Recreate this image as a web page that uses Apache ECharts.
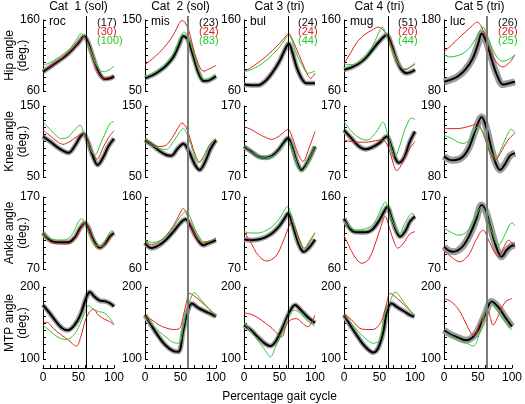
<!DOCTYPE html>
<html><head><meta charset="utf-8">
<script src="https://cdn.jsdelivr.net/npm/echarts@6/dist/echarts.min.js"></script>
<style>html,body{margin:0;padding:0;background:#fff}#c{width:525px;height:404px}</style>
</head><body><div id="c"></div>
<script>
const titles = ['Cat  1 (sol)','Cat  2 (sol)','Cat 3 (tri)','Cat 4 (tri)','Cat 5 (tri)'];
const animals = ['roc','mis','bul','mug','luc'];
const rowNames = ['Hip angle','Knee angle','Ankle angle','MTP angle'];
const nBlack = ['(17)','(23)','(24)','(51)','(26)'];
const nRed = ['(30)','(24)','(24)','(20)','(26)'];
const nGreen = ['(100)','(83)','(44)','(44)','(25)'];
const xLabelValues = [0,50,100];
const stanceEnd = [60.5,60.5,63,62,60.6];
const hipRange = [[60,160],[50,150],[60,160],[60,160],[80,180]];
const kneeRange = [[50,150],[50,150],[70,170],[70,170],[80,190]];
const ankleRange = [[70,170],[60,160],[70,170],[60,160],[70,170]];
const mtpRange = [[100,200],[100,200],[100,200],[100,200],[100,200]];

const hipBlack = [
 [[0,87],[10,94],[20,101],[30,108],[40,117],[50,128],[58,137],[64,127],[71,106],[78,87],[87,77],[95,78],[100,81]],
 [[0,68],[10,72],[20,78],[30,86],[40,98],[48,115],[54,127],[60,123],[68,99],[76,74],[83,64],[90,65],[100,71]],
 [[0,69],[10,68],[20,68],[30,74],[40,86],[50,102],[58,119],[63,127],[68,115],[74,94],[81,78],[88,71],[100,71]],
 [[0,90],[10,93],[20,98],[30,106],[40,118],[50,130],[60,139],[67,125],[74,104],[81,90],[88,85],[95,87],[100,90]],
 [[0,93],[10,96],[20,101],[30,110],[40,125],[48,146],[53,161],[60,148],[67,125],[74,104],[83,89],[92,91],[100,93]]
];
const hipRed = [
 [[0,89],[10,95],[20,102],[30,109],[40,118],[50,129],[57,136],[64,126],[71,104],[78,85],[87,78],[100,82]],
 [[0,87],[10,95],[20,104],[30,115],[40,129],[47,143],[52,149],[56,147],[62,134],[70,103],[78,82],[83,78],[90,81],[100,86]],
 [[0,87],[10,93],[20,100],[30,108],[40,117],[50,127],[58,136],[63,141],[68,133],[74,119],[82,100],[90,82],[94,78],[100,85]],
 [[0,98],[10,115],[20,131],[30,140],[40,146],[48,150],[55,146],[62,136],[70,115],[78,97],[86,90],[93,93],[100,98]],
 [[0,135],[10,144],[20,154],[30,163],[40,172],[46,177],[52,172],[60,152],[68,131],[76,118],[83,114],[92,120],[100,131]]
];
const hipGreen = [
 [[0,96],[10,100],[20,106],[30,113],[40,122],[48,134],[54,141],[60,132],[66,120],[73,101],[80,90],[86,87],[100,95]],
 [[0,70],[10,74],[20,80],[30,89],[40,102],[48,120],[55,133],[60,129],[68,104],[76,78],[83,66],[90,67],[100,73]],
 [[0,87],[10,90],[20,95],[30,102],[40,111],[50,122],[58,133],[63,139],[68,130],[74,112],[82,96],[90,85],[100,88]],
 [[0,98],[10,97],[20,100],[30,108],[40,123],[48,140],[54,150],[60,137],[68,117],[76,99],[84,91],[92,93],[100,100]],
 [[0,131],[8,128],[20,130],[30,135],[37,142],[46,156],[55,170],[61,158],[68,140],[76,126],[83,122],[92,125],[100,131]]
];
const kneeBlack = [
 [[0,107],[10,100],[20,92],[30,86],[36,84],[45,94],[52,106],[57,111],[63,100],[70,80],[77,67],[85,78],[92,93],[100,104]],
 [[0,102],[10,95],[20,87],[30,81],[37,80],[46,90],[54,97],[62,86],[70,68],[77,60],[85,72],[92,89],[100,102]],
 [[0,113],[10,106],[20,99],[30,97],[40,100],[50,110],[57,120],[62,125],[68,112],[75,90],[81,80],[90,92],[100,113]],
 [[0,136],[10,125],[20,114],[30,109],[40,112],[50,118],[60,127],[67,112],[72,97],[77,90],[85,98],[92,118],[100,134]],
 [[0,112],[7,107],[13,106],[25,110],[35,125],[45,155],[53,173],[60,155],[67,123],[73,101],[79,91],[86,100],[93,113],[100,117]]
];
const kneeRed = [
 [[0,116],[10,108],[20,100],[28,96],[38,100],[48,107],[57,111],[63,101],[70,84],[76,75],[84,90],[92,105],[100,115]],
 [[0,104],[10,97],[20,93],[30,95],[40,108],[47,120],[52,126],[58,120],[66,96],[72,78],[77,71],[85,84],[92,97],[100,104]],
 [[0,141],[10,137],[20,131],[30,126],[39,123],[50,128],[57,134],[62,137],[68,126],[76,103],[83,92],[92,112],[100,134]],
 [[0,122],[10,120],[20,119],[30,119],[40,120],[50,122],[58,120],[65,104],[70,87],[74,79],[82,89],[90,106],[100,120]],
 [[0,155],[10,155],[20,155],[30,157],[40,160],[46,163],[52,155],[60,132],[66,115],[72,106],[80,118],[90,137],[100,148]]
];
const kneeGreen = [
 [[0,128],[10,117],[20,107],[26,104],[35,106],[45,117],[52,123],[58,110],[65,93],[73,81],[82,99],[90,117],[95,126],[100,128]],
 [[0,103],[10,95],[20,90],[30,89],[40,100],[48,112],[54,118],[61,106],[68,85],[75,70],[83,80],[91,95],[100,103]],
 [[0,114],[10,106],[20,99],[30,97],[40,99],[50,108],[57,117],[62,122],[68,110],[75,88],[81,78],[90,91],[100,114]],
 [[0,148],[10,135],[20,126],[32,122],[45,133],[55,147],[61,131],[67,110],[72,99],[78,112],[85,135],[92,151],[95,153],[100,151]],
 [[0,145],[10,140],[20,134],[27,132],[36,138],[48,158],[55,150],[62,131],[67,118],[72,109],[80,122],[88,143],[95,154],[100,148]]
];
const ankleBlack = [
 [[0,120],[7,112],[14,108],[25,107],[35,107],[45,114],[52,126],[59,134],[64,127],[70,112],[76,102],[80,100],[88,106],[95,116],[100,120]],
 [[0,96],[9,89],[20,93],[30,101],[40,112],[50,124],[57,129],[64,120],[71,106],[77,97],[82,93],[90,96],[100,100]],
 [[0,111],[10,110],[20,111],[30,114],[40,120],[50,130],[57,140],[62,147],[68,133],[74,113],[79,100],[84,94],[92,100],[100,111]],
 [[0,130],[7,118],[13,112],[20,111],[30,111],[40,115],[50,128],[56,139],[61,146],[67,131],[73,114],[79,105],[86,112],[93,126],[100,133]],
 [[0,101],[6,96],[13,94],[25,100],[35,115],[45,138],[53,159],[59,150],[65,130],[72,105],[77,92],[81,87],[88,96],[95,102],[100,103]]
];
const ankleRed = [
 [[0,120],[7,111],[14,106],[25,105],[35,105],[45,112],[52,124],[59,135],[64,127],[70,110],[76,100],[80,98],[88,104],[95,114],[100,119]],
 [[0,100],[9,94],[20,98],[30,107],[40,120],[48,135],[54,144],[60,133],[67,115],[74,102],[82,96],[90,98],[100,103]],
 [[0,122],[10,106],[20,89],[32,81],[45,88],[55,108],[62,126],[67,136],[73,125],[79,109],[85,99],[93,110],[100,120]],
 [[0,107],[10,86],[18,73],[25,68],[35,74],[45,98],[52,119],[58,133],[64,117],[70,99],[76,89],[84,96],[92,108],[100,112]],
 [[0,96],[10,87],[22,80],[35,90],[45,110],[55,124],[62,112],[70,95],[77,87],[84,100],[91,110],[96,106],[100,101]]
];
const ankleGreen = [
 [[0,121],[7,114],[14,111],[25,110],[35,112],[43,121],[49,134],[54,140],[60,131],[66,116],[74,104],[82,101],[90,114],[97,123],[100,122]],
 [[0,100],[10,97],[20,99],[30,106],[40,118],[50,133],[58,140],[64,131],[71,114],[77,104],[83,98],[91,99],[100,103]],
 [[0,122],[10,120],[20,120],[30,123],[40,129],[50,140],[56,150],[61,157],[67,142],[73,122],[79,104],[85,96],[93,108],[100,121]],
 [[0,127],[7,119],[13,115],[20,114],[30,116],[40,121],[48,134],[54,147],[58,153],[64,138],[71,120],[78,109],[86,124],[96,137],[100,135]],
 [[0,127],[10,121],[20,117],[30,120],[40,133],[48,150],[53,157],[60,145],[68,120],[77,103],[85,116],[92,131],[96,134],[100,130]]
];
const mtpBlack = [
 [[0,175],[10,163],[20,150],[28,142],[35,140],[45,148],[53,162],[59,180],[63,190],[66,193],[72,187],[80,181],[88,180],[95,177],[100,173]],
 [[0,161],[10,145],[20,130],[30,118],[40,111],[47,110],[54,140],[60,166],[66,177],[75,171],[85,166],[92,163],[100,159]],
 [[0,147],[10,140],[20,130],[30,121],[37,118],[45,125],[55,145],[63,163],[72,175],[80,168],[90,158],[100,150]],
 [[0,161],[10,145],[20,130],[30,117],[41,109],[48,115],[55,136],[61,168],[67,177],[75,172],[85,166],[93,161],[99,159]],
 [[0,140],[10,134],[20,130],[32,126],[42,130],[50,140],[60,161],[70,180],[80,172],[90,158],[100,145]]
];
const mtpRed = [
 [[0,150],[5,151],[15,142],[25,134],[35,127],[47,118],[53,130],[60,155],[66,166],[71,169],[78,161],[87,155],[94,152],[100,147]],
 [[0,160],[10,154],[20,147],[30,143],[40,141],[48,142],[54,160],[58,177],[63,191],[75,183],[85,174],[100,161]],
 [[0,164],[10,162],[20,157],[30,150],[40,142],[47,135],[53,131],[60,148],[67,155],[74,156],[82,150],[90,145],[95,150],[100,161]],
 [[0,163],[10,155],[22,143],[32,141],[41,141],[50,148],[55,159],[60,177],[65,191],[75,184],[85,175],[99,161]],
 [[0,184],[10,180],[22,168],[32,150],[41,134],[45,133],[52,148],[60,163],[64,167],[68,158],[72,147],[80,160],[90,179],[100,184]]
];
const mtpGreen = [
 [[0,147],[10,139],[20,131],[33,127],[43,133],[52,148],[58,162],[64,174],[70,170],[78,166],[86,164],[94,157],[100,148]],
 [[0,159],[10,148],[20,138],[30,130],[40,123],[48,122],[54,145],[60,172],[66,188],[69,192],[80,181],[90,170],[100,159]],
 [[0,150],[10,138],[20,125],[30,112],[37,103],[45,118],[55,140],[63,160],[70,168],[80,163],[90,152],[100,146]],
 [[0,161],[10,150],[22,136],[32,127],[41,122],[50,126],[57,160],[65,180],[72,193],[85,178],[99,160]],
 [[0,138],[10,133],[20,128],[30,124],[43,118],[52,135],[60,163],[67,180],[75,172],[85,158],[100,140]]
];

// ---- layout / styles ----
const FONT = '"Liberation Sans", Arial, Helvetica, sans-serif';
const colX = [43,145,244,344,444], colW = 71;
const rowY = [20,106,197,287], rowH = [71,71,72,72];
const bandW = [5,5,5,5,7];
const vColor = ['#000','#7a7a7a','#000','#000','#7a7a7a'];
const vWidth = [1,2,1,1,2];
const RED = '#e02020', GREEN = '#2ec82e';
const rows = [
  {range: hipRange, k: hipBlack, r: hipRed, g: hipGreen},
  {range: kneeRange, k: kneeBlack, r: kneeRed, g: kneeGreen},
  {range: ankleRange, k: ankleBlack, r: ankleRed, g: ankleGreen},
  {range: mtpRange, k: mtpBlack, r: mtpRed, g: mtpGreen}
];

const grid = [], xAxis = [], yAxis = [], series = [], graphic = [];
rows.forEach((row, ri) => {
  for (let c = 0; c < 5; c++) {
    const gi = grid.length;
    grid.push({left: colX[c], top: rowY[ri], width: colW, height: rowH[ri]});
    const bottom = ri === 3;
    xAxis.push({
      type: 'value', gridIndex: gi, min: 0, max: 100, interval: 10,
      show: bottom, offset: 9,
      axisLine: {show: true, lineStyle: {color: '#000', width: 1}},
      axisTick: {show: true, inside: true, length: 3, lineStyle: {color: '#000'}},
      axisLabel: {show: true, color: '#000', fontSize: 12, fontFamily: FONT, margin: 4,
        formatter: v => xLabelValues.includes(v) ? String(v) : ''},
      splitLine: {show: false}
    });
    const [mn, mx] = row.range[c];
    yAxis.push({
      type: 'value', gridIndex: gi, min: mn, max: mx, interval: 10,
      axisLine: {show: true, lineStyle: {color: '#000', width: 1}},
      axisTick: {show: true, inside: true, length: 3, lineStyle: {color: '#000'}},
      axisLabel: {show: true, color: '#000', fontSize: 12, fontFamily: FONT, margin: 3,
        formatter: v => (v === mn || v === mx) ? String(v) : ''},
      splitLine: {show: false}
    });
    const base = {type: 'line', xAxisIndex: gi, yAxisIndex: gi, symbol: 'none', smooth: 0.35, silent: true, animation: false};
    series.push(Object.assign({}, base, {data: row.k[c], lineStyle: {color: '#9c9c9c', width: bandW[c]}, z: 1}));
    series.push(Object.assign({}, base, {data: row.k[c], lineStyle: {color: '#000', width: 2}, z: 2}));
    series.push(Object.assign({}, base, {data: row.r[c], lineStyle: {color: RED, width: 1}, z: 3}));
    series.push(Object.assign({}, base, {data: row.g[c], lineStyle: {color: GREEN, width: 1}, z: 3}));
  }
});
// full-height stance/swing transition lines
for (let c = 0; c < 5; c++) {
  const gi = grid.length;
  grid.push({left: colX[c], top: 16, width: colW, height: 368 - 16});
  xAxis.push({type: 'value', gridIndex: gi, min: 0, max: 100, show: false});
  yAxis.push({type: 'value', gridIndex: gi, min: 0, max: 1, show: false});
  series.push({type: 'line', xAxisIndex: gi, yAxisIndex: gi, data: [[0,0]], symbol: 'none', silent: true, animation: false,
    lineStyle: {opacity: 0}, z: 4,
    markLine: {silent: true, symbol: 'none', animation: false, label: {show: false},
      lineStyle: {color: vColor[c], width: vWidth[c], type: 'solid'},
      data: [{xAxis: stanceEnd[c]}]}});
}
// texts
const txt = (x, y, text, opts) => Object.assign({type: 'text', x: x, y: y, silent: true,
  style: Object.assign({text: text, fill: '#000', font: '11px ' + FONT, textAlign: 'left', textVerticalAlign: 'middle'}, opts || {})});
for (let c = 0; c < 5; c++) {
  graphic.push(txt(colX[c] + colW / 2, 7, titles[c], {textAlign: 'center', font: '12px ' + FONT}));
  graphic.push(txt(colX[c] + 6, 22, animals[c], {font: '12px ' + FONT}));
  graphic.push(txt(colX[c] + 54, 23, nBlack[c], {fill: '#111'}));
  graphic.push(txt(colX[c] + 54, 32, nRed[c], {fill: RED}));
  graphic.push(txt(colX[c] + 54, 41, nGreen[c], {fill: GREEN}));
}
rowNames.forEach((nm, ri) => {
  graphic.push(Object.assign(txt(16, rowY[ri] + rowH[ri] / 2, nm + '\n(deg.)',
    {textAlign: 'center', font: '12px ' + FONT, lineHeight: 13}), {rotation: Math.PI / 2}));
});
graphic.push(txt(colX[2] + colW / 2, 397, 'Percentage gait cycle', {textAlign: 'center', font: '12px ' + FONT}));

const chart = echarts.init(document.getElementById('c'), null, {renderer: 'canvas'});
chart.setOption({animation: false, backgroundColor: '#fff', grid, xAxis, yAxis, series, graphic});
</script></body></html>
